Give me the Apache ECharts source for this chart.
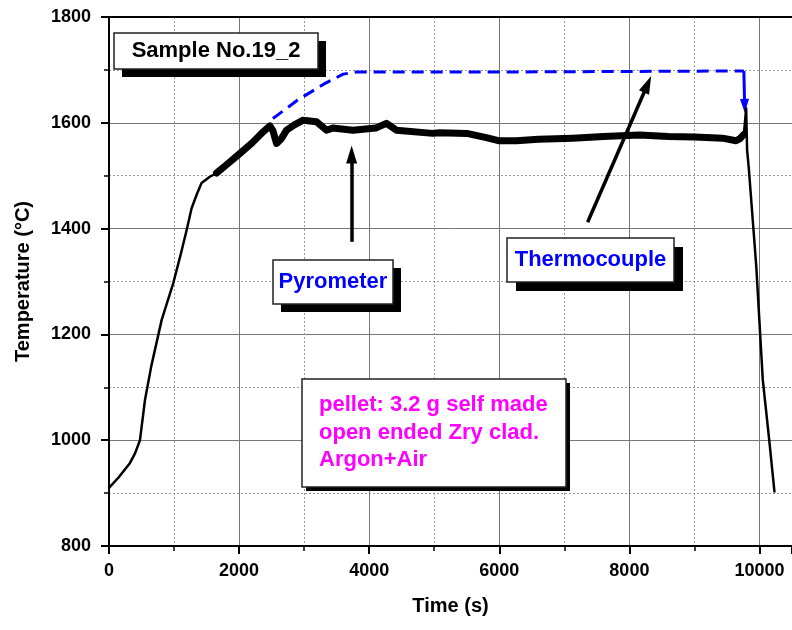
<!DOCTYPE html>
<html>
<head>
<meta charset="utf-8">
<script src="https://cdn.jsdelivr.net/npm/echarts@6/dist/echarts.min.js"></script>
<style>
  html, body { margin: 0; padding: 0; background: #ffffff; }
  #chart { width: 792px; height: 630px; }
</style>
</head>
<body>
<div id="chart"></div>
<script>
// Axis ticks
const xTicks = [0, 2000, 4000, 6000, 8000, 10000];
const yTicks = [800, 1000, 1200, 1400, 1600, 1800];

// Pyrometer reading [time s, temperature °C]: heat-up ramp
const pyroRise = [
  [0, 910], [150, 930], [323, 957], [400, 975], [476, 1000], [553, 1076],
  [650, 1140], [809, 1227], [988, 1297], [1100, 1350], [1193, 1397],
  [1269, 1438], [1350, 1465], [1423, 1486], [1550, 1498], [1654, 1505]
];
// Pyrometer reading: noisy holding period
const pyroHold = [
  [1654, 1505], [1800, 1520], [2012, 1542], [2200, 1562], [2370, 1583],
  [2473, 1594], [2520, 1585], [2576, 1561], [2650, 1570], [2730, 1586],
  [2850, 1596], [2985, 1605], [3190, 1602], [3343, 1586], [3440, 1590],
  [3750, 1586], [4100, 1590], [4265, 1599], [4418, 1586], [4977, 1580],
  [5084, 1581], [5500, 1580], [5800, 1572], [6000, 1566], [6263, 1566],
  [6600, 1569], [7130, 1571], [7600, 1574], [8157, 1577], [8600, 1574],
  [9000, 1573], [9432, 1571], [9640, 1566], [9700, 1570], [9760, 1578]
];
// Pyrometer reading: final spike and cool-down
const pyroQuench = [
  [9760, 1578], [9780, 1580], [9795, 1627], [9810, 1548], [9836, 1514],
  [9950, 1330], [10051, 1114], [10150, 1000], [10230, 903]
];
// Thermocouple reading
const thermo = [
  [2520, 1608], [2900, 1643], [3300, 1673], [3600, 1692], [3800, 1696],
  [6000, 1696], [9760, 1698]
];
const thermoDrop = [[9760, 1698], [9772, 1632]];

// Pointer arrows for the two text labels
const pyroArrow = [[3730, 1375], [3730, 1540]];
const thermoArrow = [[7358, 1412], [8280, 1673]];

const FONT = 'Arial, "Liberation Sans", sans-serif';

const chart = echarts.init(document.getElementById('chart'), null, { renderer: 'canvas' });

// Framed text label with a solid drop shadow
function box(x, y, w, h, off, lines, color, align) {
  const children = [
    { type: 'rect', z: 100, shape: { x: x + off, y: y + off, width: w, height: h },
      style: { fill: '#000' } },
    { type: 'rect', z: 101, shape: { x: x, y: y, width: w, height: h },
      style: { fill: '#fff', stroke: '#222', lineWidth: 1.5 } }
  ];
  lines.forEach(function (ln) {
    children.push({
      type: 'text', z: 102,
      x: align === 'left' ? ln.x : x + w / 2,
      y: ln.y,
      style: {
        text: ln.t, fill: color, font: 'bold 22px ' + FONT,
        align: align === 'left' ? 'left' : 'center', verticalAlign: 'middle'
      }
    });
  });
  return { type: 'group', z: 100, children: children };
}

const plain = function (v) { return String(v); };

const option = {
  animation: false,
  backgroundColor: '#ffffff',
  grid: { left: 109, top: 17, width: 683, height: 529, containLabel: false },
  xAxis: [{
    type: 'value', min: xTicks[0], max: 10500, interval: xTicks[1] - xTicks[0],
    name: 'Time (s)', nameLocation: 'middle', nameGap: 50,
    nameTextStyle: { fontFamily: FONT, fontWeight: 'bold', fontSize: 20, color: '#000' },
    axisLine: { show: true, onZero: false, lineStyle: { color: '#000', width: 2 } },
    axisTick: { show: true, inside: false, length: 8, lineStyle: { color: '#000', width: 2 } },
    minorTick: { show: true, splitNumber: 2, length: 5, lineStyle: { color: '#000', width: 1.5 } },
    axisLabel: { showMaxLabel: false, margin: 16, formatter: plain,
      fontFamily: FONT, fontWeight: 'bold', fontSize: 18, color: '#000' },
    splitLine: { show: true, lineStyle: { color: '#777', width: 1 } },
    minorSplitLine: { show: true, lineStyle: { color: '#999', width: 1, type: [2, 2] } }
  }, {
    type: 'value', min: xTicks[0], max: 10500, position: 'top',
    axisLine: { show: true, onZero: false, lineStyle: { color: '#000', width: 2 } },
    axisTick: { show: false }, axisLabel: { show: false }, splitLine: { show: false }
  }],
  yAxis: [{
    type: 'value', min: yTicks[0], max: yTicks[yTicks.length - 1], interval: yTicks[1] - yTicks[0],
    name: 'Temperature (\u00B0C)', nameLocation: 'middle', nameGap: 76,
    nameTextStyle: { fontFamily: FONT, fontWeight: 'bold', fontSize: 20, color: '#000' },
    axisLine: { show: true, onZero: false, lineStyle: { color: '#000', width: 2 } },
    axisTick: { show: true, inside: false, length: 8, lineStyle: { color: '#000', width: 2 } },
    minorTick: { show: true, splitNumber: 2, length: 5, lineStyle: { color: '#000', width: 1.5 } },
    axisLabel: { margin: 18, formatter: plain,
      fontFamily: FONT, fontWeight: 'bold', fontSize: 18, color: '#000' },
    splitLine: { show: true, lineStyle: { color: '#777', width: 1 } },
    minorSplitLine: { show: true, lineStyle: { color: '#999', width: 1, type: [2, 2] } }
  }],
  series: [
    {
      name: 'Pyrometer rise', type: 'line', data: pyroRise, showSymbol: false, symbol: 'none',
      lineStyle: { color: '#000', width: 2.5, join: 'round', cap: 'round' }, z: 5
    },
    {
      name: 'Pyrometer hold', type: 'line', data: pyroHold, showSymbol: false, symbol: 'none',
      lineStyle: { color: '#000', width: 7, join: 'round', cap: 'round' }, z: 5,
      markLine: {
        silent: true, symbol: ['none', 'triangle'], symbolSize: [11, 18], label: { show: false },
        lineStyle: { color: '#000', width: 3.5, type: 'solid' },
        data: [
          [{ coord: pyroArrow[0] }, { coord: pyroArrow[1] }],
          [{ coord: thermoArrow[0] }, { coord: thermoArrow[1] }]
        ]
      }
    },
    {
      name: 'Pyrometer quench', type: 'line', data: pyroQuench, showSymbol: false, symbol: 'none',
      lineStyle: { color: '#000', width: 2.5, join: 'round', cap: 'round' }, z: 5
    },
    {
      name: 'Thermocouple', type: 'line', data: thermo, showSymbol: false, symbol: 'none',
      lineStyle: { color: '#0000ff', width: 3, type: [12, 7] }, z: 6,
      markLine: {
        silent: true, symbol: ['none', 'triangle'], symbolSize: [9, 14], label: { show: false },
        lineStyle: { color: '#0000ff', width: 3, type: 'solid' },
        data: [[{ coord: thermoDrop[0] }, { coord: thermoDrop[1] }]]
      }
    }
  ],
  graphic: [
    box(114, 33, 204, 36, 8, [{ t: 'Sample No.19_2', y: 51 }], '#000'),
    box(273, 260, 120, 44, 8, [{ t: 'Pyrometer', y: 282 }], '#0000ff'),
    box(507, 238, 167, 44, 9, [{ t: 'Thermocouple', y: 260 }], '#0000ff'),
    box(302, 379, 264, 108, 4, [
      { t: 'pellet: 3.2 g self made', x: 319, y: 405 },
      { t: 'open ended Zry clad.', x: 319, y: 433 },
      { t: 'Argon+Air', x: 319, y: 460 }
    ], '#ff00ff', 'left')
  ]
};

chart.setOption(option);
</script>
</body>
</html>
